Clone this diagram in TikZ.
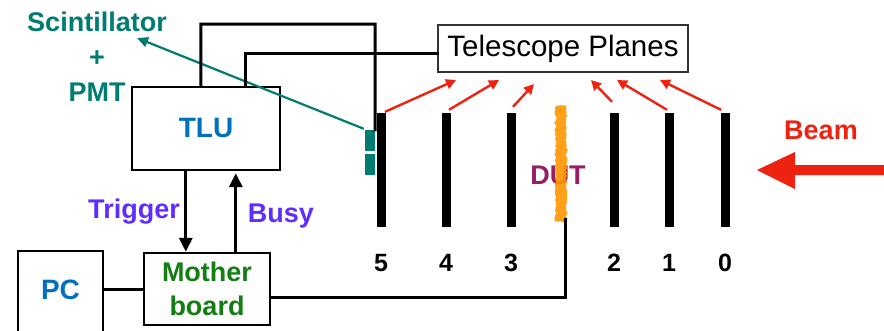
\documentclass[tikz,border=0pt]{standalone}
\usepackage{fontspec}
\setmainfont{Liberation Sans}
\usetikzlibrary{arrows.meta,calc,decorations.pathmorphing}
\definecolor{tealc}{RGB}{0,125,112}
\definecolor{tlublue}{RGB}{0,112,192}
\definecolor{mbgreen}{RGB}{20,125,20}
\definecolor{sigviolet}{RGB}{95,45,255}
\definecolor{dutc}{RGB}{150,30,100}
\definecolor{redc}{RGB}{238,34,17}
\definecolor{orangec}{RGB}{255,150,0}
\tikzset{
  box/.style={draw=black, line width=2.4pt, inner sep=0pt},
  plane/.style={fill=black, inner sep=0pt, minimum width=9pt, minimum height=114pt},
  scin/.style={fill=tealc, inner sep=0pt, minimum width=10pt, minimum height=21pt},
  wire/.style={line width=3pt, line cap=rect},
  sig/.style={line width=3pt, -{Triangle[length=14pt,width=13pt]}},
  redarrow/.style={draw=redc, line width=2.4pt, -{Triangle[length=10pt,width=10pt]}},
  bigtxt/.style={font=\fontsize{27}{35}\selectfont\bfseries, inner sep=0pt},
  numtxt/.style={font=\fontsize{25}{28}\selectfont\bfseries, inner sep=0pt},
}
\begin{document}
\begin{tikzpicture}[x=1pt,y=-1pt]
\useasboundingbox (0,0) rectangle (884,330);
\fill[white] (0,0) rectangle (884,330);

% boxes
\node[box, minimum width=148pt, minimum height=83pt, text=tlublue, font=\fontsize{28}{30}\selectfont\bfseries] (tlu) at (206,128.5) {TLU};
\node[box, minimum width=126pt, minimum height=72pt, text=mbgreen, align=center, font=\fontsize{27}{34}\selectfont\bfseries] (mb) at (207,289) {Mother\\board};
\node[box, minimum width=85pt, minimum height=99pt] (pc) at (60.5,300.5) {};
\node[bigtxt, text=tlublue, font=\fontsize{28}{30}\selectfont\bfseries] (pctext) at (60.5,290) {PC};
\node[draw=black!80, line width=1.6pt, minimum width=250pt, minimum height=47pt, inner sep=0pt, font=\fontsize{29.5}{32}\selectfont] (tel) at (563,48.5) {Telescope Planes};

% planes
\node[plane] (p5) at (381,170) {};
\node[plane] (p4) at (446,170) {};
\node[plane] (p3) at (511,170) {};
\node[plane] (p2) at (614,170) {};
\node[plane] (p1) at (669,170) {};
\node[plane] (p0) at (725,170) {};

% DUT
\node[bigtxt, text=dutc, font=\fontsize{27}{30}\selectfont\bfseries] (duttext) at (558,175) {DUT};
\fill[orangec, opacity=0.9, decorate, decoration={random steps, segment length=2pt, amplitude=1.2pt}] (555.5,106) rectangle (566.5,222);
\coordinate (dutbot) at (565,219);

% numbers
\foreach \n/\x in {5/381,4/446,3/511,2/614,1/669,0/725}
  \node[numtxt] (n\n) at (\x,263) {\n};

% scintillator
\node[scin] (sc1) at (370,140.5) {};
\node[scin] (sc2) at (370,164.5) {};
\node[bigtxt, text=tealc, align=center] (scint) at (97,57) {Scintillator\\+\\PMT};
\coordinate (scend) at (137,38);
\draw[tealc, line width=2.2pt, -{Triangle[length=11pt,width=10pt]}] ($(sc1.north west)+(-1,-1)$) -- (scend);

% wires from TLU
\coordinate (w1) at (375,24);
\draw[wire] ($(tlu.north west)+(70,0)$) |- (w1) -- (sc1.north east);
\draw[wire] ($(tlu.north west)+(115,0)$) |- ($(tel.west)+(0,5)$);

% trigger / busy
\draw[sig] ($(tlu.south west)+(55,0)$) -- ($(mb.north west)+(43,0)$);
\draw[sig] ($(mb.north west)+(93,0)$) -- ($(tlu.south west)+(105,2)$);
\node[bigtxt, text=sigviolet] (trig) at (134,212) {Trigger};
\node[bigtxt, text=sigviolet] (busy) at (281,216) {Busy};

% PC - motherboard, motherboard - DUT
\draw[wire] (mb.west) -- (mb.west -| pc.east);
\draw[wire] ($(mb.east)+(0,8)$) -| (dutbot);

% red arrows to telescope
\coordinate (t5) at (456,80);
\coordinate (t4) at (499,80);
\coordinate (t3) at (534,84);
\coordinate (t2) at (591,80);
\coordinate (t1) at (617,80);
\coordinate (t0) at (660,80);
\draw[redarrow] ($(p5.north)+(4,-1)$) -- (t5);
\draw[redarrow] ($(p4.north)+(3,-3)$) -- (t4);
\draw[redarrow] ($(p3.north)+(2,-6)$) -- (t3);
\draw[redarrow] ($(p2.north)+(-2,-11)$) -- (t2);
\draw[redarrow] ($(p1.north)+(-2,-3)$) -- (t1);
\draw[redarrow] ($(p0.north)+(-4,-3)$) -- (t0);

% beam
\fill[redc] (884,165) -- (795,165) -- (795,152) -- (757,170) -- (795,189) -- (795,175) -- (884,175) -- cycle;
\node[bigtxt, text=redc] (beam) at (821,130) {Beam};
\end{tikzpicture}
\end{document}
